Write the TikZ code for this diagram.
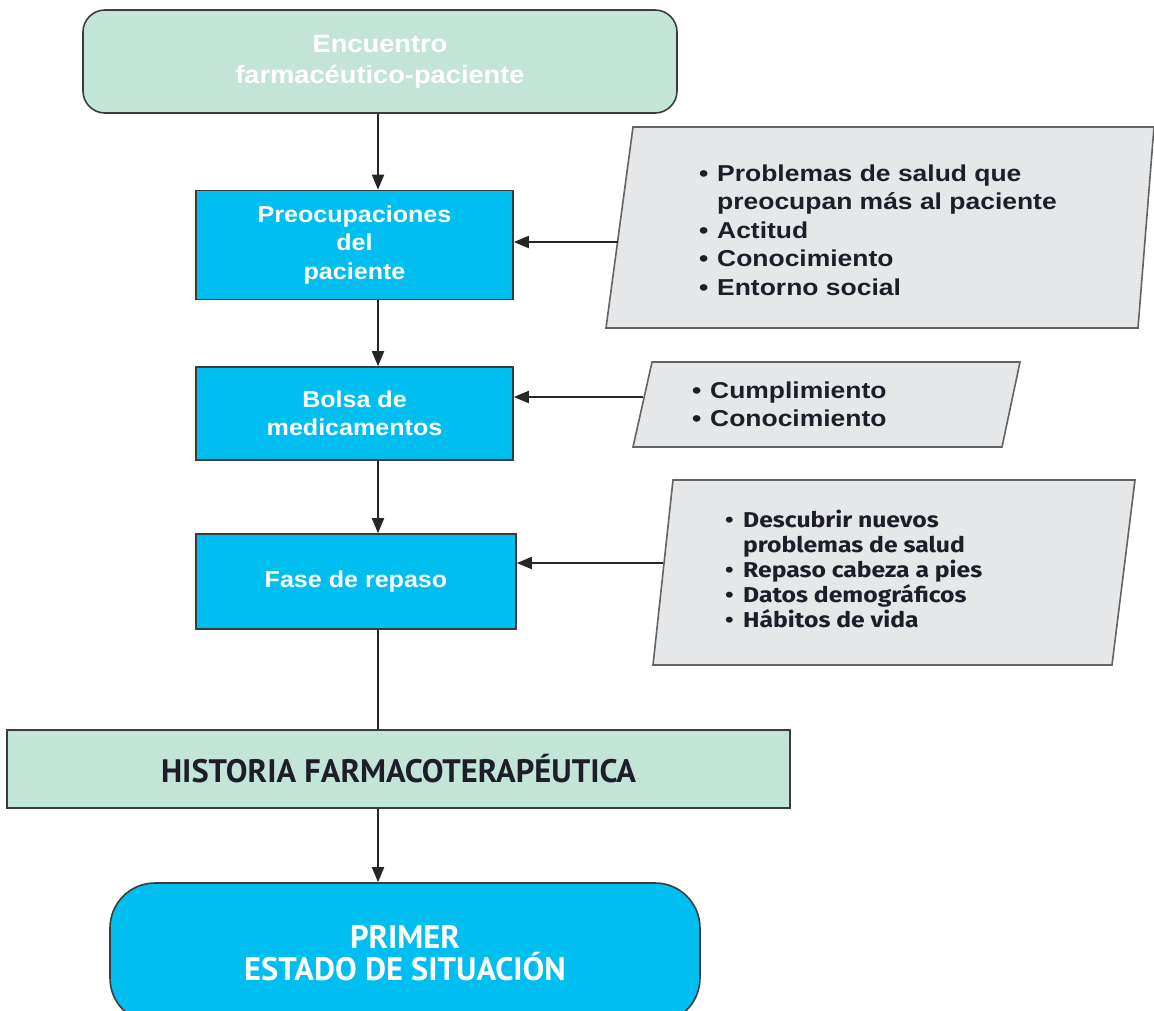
\documentclass[tikz,border=0pt]{standalone}
\usepackage{fontspec}
\setmainfont{Liberation Sans}
\newfontfamily\boxfont[FakeStretch=1.09]{Liberation Sans}
\newfontfamily\widefont[FakeStretch=1.15]{Liberation Sans}
\newfontfamily\condfont{PT Sans}
\newfontfamily\humfont[FakeStretch=1.15]{Fira Sans}
\usetikzlibrary{positioning,arrows.meta}
\definecolor{mint}{HTML}{C3E5D8}
\definecolor{cyanbox}{HTML}{00BFF0}
\definecolor{notegray}{HTML}{E6E7E8}
\definecolor{edgegray}{HTML}{3C3C3C}
\definecolor{notetext}{HTML}{1E1E2A}
\newcommand{\bul}{\makebox[18pt][l]{\textbullet}}
\newcommand{\ind}{\hspace*{18pt}}
\tikzset{
  encbox/.style={draw=edgegray, line width=1.6pt, rounded corners=22pt,
    fill=mint, text=white, font=\boxfont\fontsize{25}{31}\selectfont\bfseries,
    align=center, minimum width=594pt, minimum height=103pt},
  stepbox/.style={draw=edgegray, line width=1.6pt, fill=cyanbox,
    text=white, font=\boxfont\fontsize{23}{28.5}\selectfont\bfseries,
    align=center, minimum width=317pt},
  histbox/.style={draw=edgegray, line width=1.6pt, fill=mint,
    text=notetext, font=\condfont\fontsize{32.5}{34}\selectfont\bfseries,
    minimum width=783pt, minimum height=78pt},
  primerbox/.style={draw=edgegray, line width=1.6pt, rounded corners=45pt,
    fill=cyanbox, text=white, font=\condfont\fontsize{32.5}{32}\selectfont\bfseries,
    align=center, minimum width=590pt, minimum height=140pt},
  notebox/.style={draw=edgegray!80, line width=1.6pt, fill=notegray},
  notetxt/.style={text=notetext, align=left, anchor=west, inner sep=0pt,
    font=\widefont\fontsize{23}{28.5}\selectfont\bfseries},
  arr/.style={-{Triangle[length=15pt,width=12pt]}, line width=1.8pt, draw=black!85},
  plain/.style={line width=1.8pt, draw=black!85},
}
\begin{document}
\begin{tikzpicture}[x=1pt, y=-1pt]
  \clip (0,0) rectangle (1154,1010);
  \fill[white] (0,0) rectangle (1154,1010);
  \coordinate (spine) at (378,0);
  % Main column
  \node[encbox] at (380,61.5) (enc) {Encuentro\\farmacéutico-paciente};
  \node[stepbox, minimum height=109pt] at (354.5,245) (preo) {Preocupaciones\\del\\paciente};
  \node[stepbox, minimum height=93pt] at (354.5,413.5) (bolsa) {Bolsa de\\medicamentos};
  \node[stepbox, minimum width=320pt, minimum height=95pt] at (356,581.5) (fase) {Fase de repaso};
  \node[histbox] at (398.5,769) (hist) {HISTORIA FARMACOTERAPÉUTICA};
  \node[primerbox] at (405,953) (primer) {PRIMER\\ESTADO DE SITUACIÓN};
  % Side notes
  \draw[notebox] (633,127) -- (1154,127) -- (1138,328) -- (606,328) -- cycle;
  \node[notetxt] at (699,230) (n1) {\bul Problemas de salud que\\
    \ind preocupan más al paciente\\\bul Actitud\\\bul Conocimiento\\\bul Entorno social};
  \draw[notebox] (652,362) -- (1020,362) -- (1002,447) -- (633,447) -- cycle;
  \node[notetxt] at (692,404.5) (n2) {\bul Cumplimiento\\\bul Conocimiento};
  \draw[notebox] (673,480) -- (1135,480) -- (1112,665) -- (653,665) -- cycle;
  \node[notetxt, font=\humfont\fontsize{21.5}{25}\selectfont\bfseries] at (725,569) (n3)
    {\bul Descubrir nuevos\\\ind problemas de salud\\\bul Repaso cabeza a pies\\
     \bul Datos demográficos\\\bul Hábitos de vida};
  \coordinate (n1in) at (618,242);
  \coordinate (n2in) at (643,397);
  \coordinate (n3in) at (663,563);
  % Edges
  \draw[arr] (enc.south -| spine) -- (preo.north -| spine);
  \draw[arr] (preo.south -| spine) -- (bolsa.north -| spine);
  \draw[arr] (bolsa.south -| spine) -- (fase.north -| spine);
  \draw[plain] (fase.south -| spine) -- (hist.north -| spine);
  \draw[arr] (hist.south -| spine) -- (primer.north -| spine);
  \draw[arr] (n1in) -- (preo.east |- n1in);
  \draw[arr] (n2in) -- (bolsa.east |- n2in);
  \draw[arr] (n3in) -- (fase.east |- n3in);
\end{tikzpicture}
\end{document}
